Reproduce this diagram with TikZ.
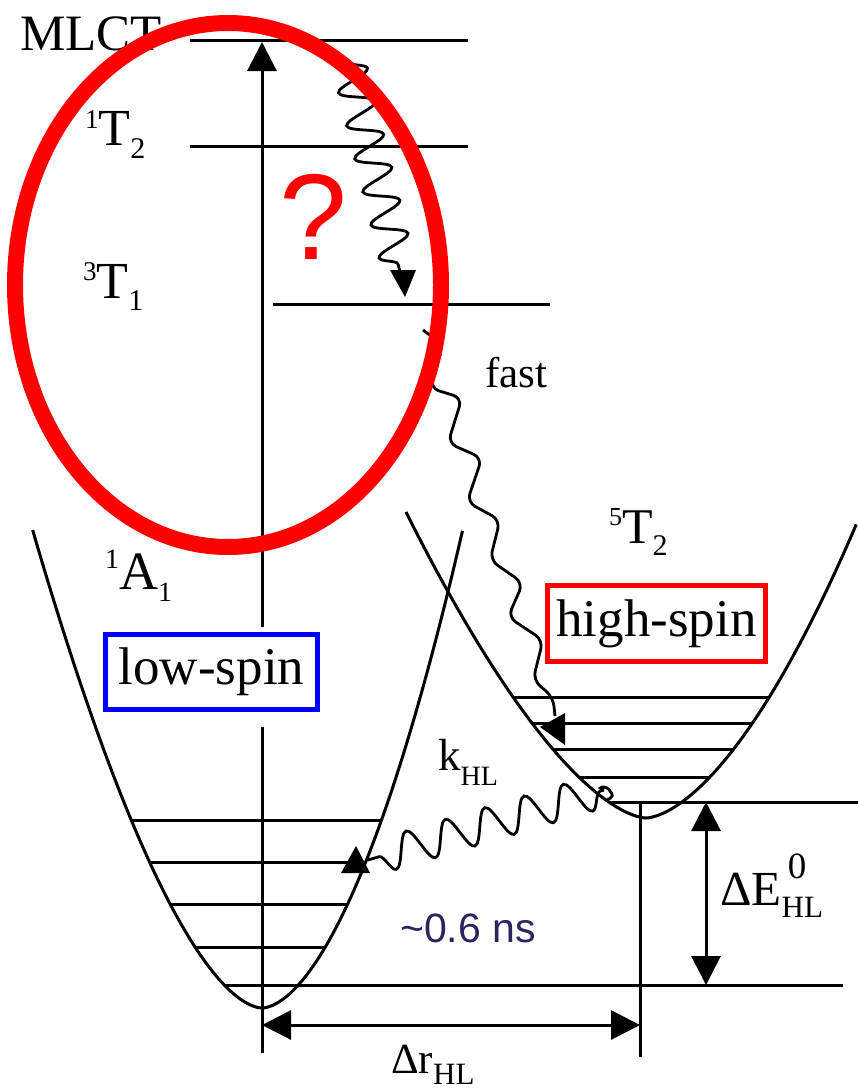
\documentclass[tikz,border=0pt]{standalone}
\usepackage{fontspec}
\setmainfont{Liberation Serif}
\newfontfamily\sansf{Liberation Sans}
\usetikzlibrary{decorations.pathmorphing,arrows.meta}
\definecolor{nsblue}{RGB}{45,35,95}
\newcommand{\fs}[1]{\fontsize{#1}{#1}\selectfont}
\begin{document}
\begin{tikzpicture}[x=1pt,y=1pt,
  ln/.style={line width=3pt, black},
  lbl/.style={inner sep=0pt, anchor=base west},
  tipend/.style={-{Triangle[length=29pt,width=29pt]}},
  dtip/.style={{Triangle[length=29pt,width=29pt]}-{Triangle[length=29pt,width=29pt]}},
  wave/.style={line width=2.8pt, decorate, decoration={snake, #1}},
  spinbox/.style={draw, line width=5pt, fill=white, inner sep=0pt, font=\fs{53}},
  ahead/.style={fill=black},
]
\useasboundingbox (0,0) rectangle (858,-1090);

% potential wells
\draw[ln] plot[domain=-1:1, samples=120, variable=\s] ({262 - 14.34*\s*\s + 215*\s*abs(\s)^0.16}, {-1008 + 478*\s*\s});
\draw[ln] plot[domain=-1.01:0.99, samples=120, variable=\s] ({646 - 12*\s*\s + 225*\s*abs(\s)^0.24}, {-818 + 300*\s*\s});

% upper levels
\draw[ln] (190,-40) -- (468,-40);
\draw[ln] (190,-146) -- (468,-146);
\draw[ln] (273,-304) -- (550,-304);

% vibrational levels, low-spin well
\draw[ln] (131.2,-820) -- (381.6,-820);
\draw[ln] (149.5,-862) -- (365.7,-862);
\draw[ln] (170.1,-904) -- (347.7,-904);
\draw[ln] (195.0,-947) -- (325.4,-947);
\draw[ln] (224.3,-985) -- (843,-985);

% vibrational levels, high-spin well
\draw[ln] (513.0,-697) -- (769.3,-697);
\draw[ln] (531.9,-723) -- (752.5,-723);
\draw[ln] (552.7,-749) -- (733.7,-749);
\draw[ln] (578.8,-777) -- (709.9,-777);
\draw[ln] (608.8,-802) -- (858,-802);

% boxes
\node[spinbox, draw=blue, minimum width=212pt, minimum height=75pt] (ls) at (211.5,-672) {low-spin};
\node[spinbox, draw=red, minimum width=218pt, minimum height=76pt] (hs) at (656.5,-623.5) {high-spin};

% coordinates
\coordinate (exbot) at (262,-1053);
\coordinate (exlow) at (262,-727);
\coordinate (exup) at (262,-627);
\coordinate (extop) at (262,-42);
\coordinate (hsbot) at (640,-802);
\coordinate (hsend) at (640,-1057);
\coordinate (drl) at (262,-1025);
\coordinate (drr) at (640,-1025);
\coordinate (det) at (706,-802);
\coordinate (deb) at (706,-985);
\coordinate (w1s) at (348,-60);
\coordinate (w1e) at (400,-272);
\coordinate (w3s) at (604,-790);
\coordinate (w3e) at (368,-860);

% straight arrows
\draw[ln] (exbot) -- (exlow);
\draw[ln, tipend] (exup) -- (extop);
\draw[ln] (hsbot) -- (hsend);
\draw[ln, dtip] (drl) -- (drr);
\draw[ln, dtip] (det) -- (deb);

% wavy arrows
\draw[wave={segment length=34pt, amplitude=17pt, pre length=2pt, post length=6pt}] (w1s) -- (w1e);
\fill[ahead] (390,-270) -- (416,-270) -- (405,-297) -- cycle;

\draw[line width=2.8pt, rounded corners=9pt] (423,-330) -- (443,-345) -- (430,-388) -- (462,-398) -- (448,-443) -- (482,-458) -- (467,-502) -- (500,-520) -- (490,-560) -- (523,-583) -- (508,-617) -- (543,-640) -- (533,-680) -- (553,-697) -- (555,-716);
\fill[ahead] (540,-727) -- (565,-713) -- (565,-745) -- cycle;

\draw[wave={segment length=41pt, amplitude=17pt, pre length=4pt, post length=4pt}] (w3s) -- (w3e);
\draw[line width=2.8pt, rounded corners=4pt] (w3s) -- (598,-788) -- (606,-786) -- (614,-796) -- (607,-800);
\fill[ahead] (356,-846) -- (341,-873) -- (370,-873) -- cycle;

% labels
\node[lbl, font=\fs{51}] (mlct) at (20,-50) {MLCT};
\node[lbl, font=\fs{52}] (t2s) at (85,-145) {{\fs{27}\raisebox{17pt}{1}}T{\fs{30}\raisebox{-13pt}{2}}};
\node[lbl, font=\fs{52}] (t1t) at (83,-298) {{\fs{27}\raisebox{18pt}{3}}T{\fs{30}\raisebox{-12pt}{1}}};
\node[lbl, font=\fs{54}] (a1) at (105,-589) {{\fs{28}\raisebox{21pt}{1}}A{\fs{28}\raisebox{-12pt}{1}}};
\node[lbl, font=\fs{50}] (t2q) at (609,-543) {{\fs{26}\raisebox{18pt}{5}}T{\fs{30}\raisebox{-12pt}{2}}};
\node[lbl, font=\fs{43}] (fast) at (485,-387) {fast};
\node[lbl, font=\fs{45}] (khl) at (438,-770) {k{\fs{28}\raisebox{-15pt}{HL}}};
\node[lbl, font=\fs{41}\sansf, text=nsblue] (ns) at (400,-942) {\textasciitilde0.6 ns};
\node[lbl, font=\fs{49}] (de) at (720,-905) {ΔE{\fs{37}\rlap{\raisebox{27pt}{\,0}}}{\fs{31}\raisebox{-12pt}{HL}}};
\node[lbl, font=\fs{43}] (dr) at (391,-1073) {Δr{\fs{31}\raisebox{-11pt}{HL}}};

% red highlight
\draw[red, line width=16pt] (228,-285) ellipse [x radius=213, y radius=262];
\node[inner sep=0pt, font=\fs{122}\sansf, text=red] (q) at (313,-217) {?};
\end{tikzpicture}
\end{document}
